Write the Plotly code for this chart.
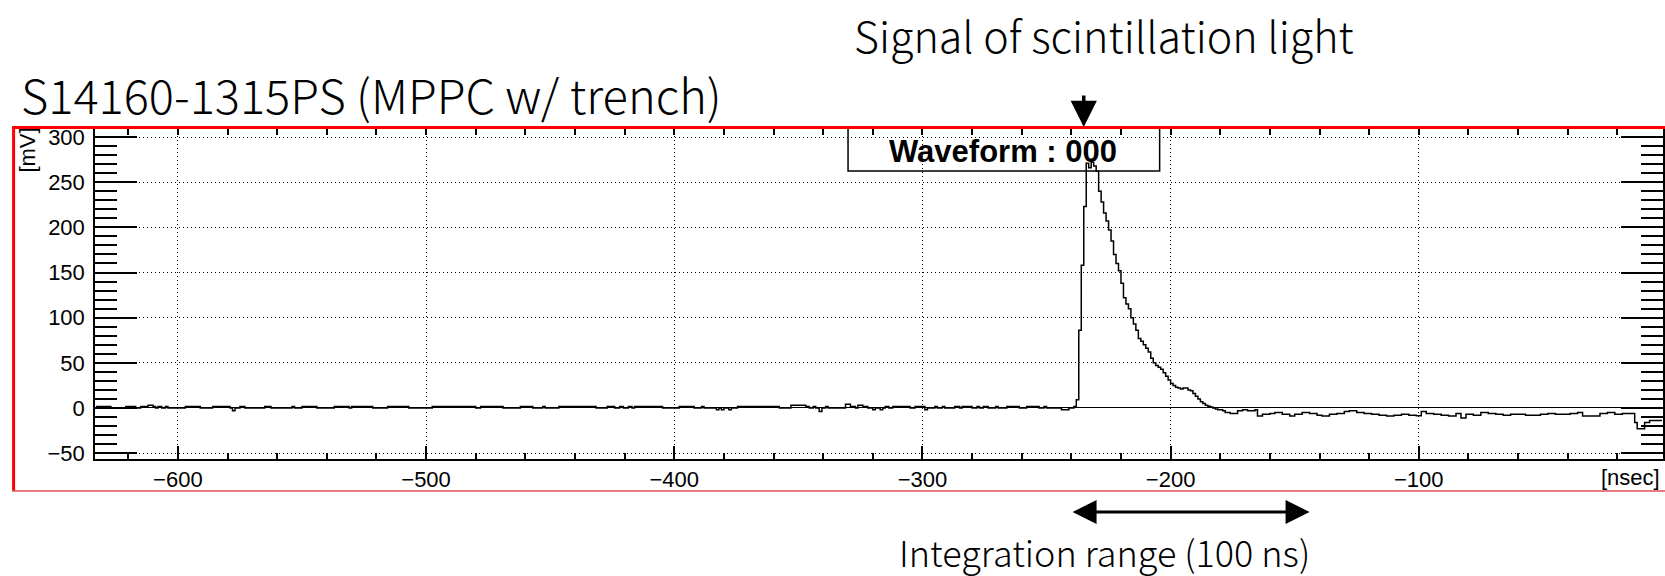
import plotly.graph_objects as go

# ---------------- data ----------------
# baseline region: step change points (time [ns], amplitude [mV])
base_t = [-633, -627, -621, -617, -615, -612, -610, -609, -608, -606.5, -605, -604,
          -597, -591, -586, -579, -578, -577, -575, -573, -565, -562.5, -554, -553,
          -550, -544, -537, -531, -530, -521.5, -515.5, -507, -497.5, -480, -478, -469,
          -462, -457, -453, -452, -446.5, -431.5, -427, -424, -422, -420.5, -418.5, -417,
          -416, -404.7, -398, -392, -389, -388, -383, -382, -381, -380, -378, -377,
          -374.5, -357.7, -353, -347, -345.6, -344, -343, -341.6, -340.5, -339, -338,
          -331, -329, -327, -326, -324, -322, -320, -319, -317, -316, -315, -313.5,
          -312, -305, -303, -299, -298, -295, -294, -292, -291, -287, -285, -284, -280,
          -278, -277, -275.5, -273.5, -270.5, -269.5, -266, -261, -258, -253, -251, -250,
          -244, -241, -239]
base_v = [1.5, 0, 1.5, 0, 1.5, 3, 1.5, 0, 1.5, 0, 1.5, 0,
          1.5, 0, 1.5, 0, -3, 0, 1.5, 0, 1.5, 0, 1.5, 0,
          1.5, 0, 1.5, 0, 1.5, 0, 1.5, 0, 1.5, 0, 1.5, 0,
          1.5, 0, 1.5, 0, 1.5, 0, 1.5, 0, 1.5, 0, 1.5, 0,
          1.5, 0, 1.5, 0, 1.5, 0, -2, 0, -2, 0, -2, 0,
          1.5, 0, 3, 1.5, 0, 1.5, 0, -4, 0, 1.5, 0,
          4, 1.5, 0, 3, 1.5, 0, -2, 0, -2, 0, 1.5, 0,
          1.5, 0, 1.5, -2, 0, 1.5, 0, 1.5, 0, 1.5, 0, 1.5, 0,
          1.5, 0, 1.5, 0, 1.5, 0, 1.5, 0, 1.5, 0, 1.5, 0,
          -2, 0, 1.5]

# scintillation pulse (1 ns samples)
pulse_t = [-238, -237, -236, -235, -234, -233, -232, -231, -230, -229, -228, -227,
           -226, -225, -224, -223, -222, -221, -220, -219, -218, -217, -216, -215,
           -214, -213, -212, -211, -210, -209, -208, -207, -206, -205, -204, -203,
           -202, -201, -200, -199, -198, -197, -196, -195, -194, -193, -192, -191,
           -190, -189, -188, -187, -186, -185, -184, -183, -182, -181, -180, -179,
           -178, -177, -176]
pulse_v = [9, 86, 158, 223, 271, 266, 272, 268, 262, 240, 228, 216,
           207, 197, 185, 170, 160, 152, 138, 122, 115, 110, 100, 93,
           86, 77, 74, 70, 66, 62, 55, 50, 47, 45, 43, 39,
           35, 31, 27, 25, 23, 22, 21, 22, 22, 20, 19, 16,
           13, 10, 7, 5, 3, 2, 1, 0, -1, -2, -2, -3,
           -5, -5, -6]

# tail after the pulse: step change points
tail_t = [-175, -173, -171, -169, -166, -165, -163, -160, -158, -155, -152, -150,
          -147, -144, -141, -139, -136, -133, -130, -128, -125, -122, -119, -116,
          -113, -110, -107, -104, -101, -99, -97, -94, -91, -88, -85, -83, -81,
          -78, -75, -72, -69, -66, -63, -60, -57, -54, -51, -48, -45, -42, -39,
          -36, -34, -30, -27, -24, -21, -18, -15, -13, -12, -9, -7, -2]
tail_v = [-6, -3, -2, -3, -2, -9, -7, -6, -5, -7, -9, -7,
          -5, -6, -8, -9, -7, -6, -4, -3, -5, -6, -7, -8,
          -9, -8, -7, -8, -8.5, -4, -6, -7, -8, -9, -6, -11, -7,
          -8, -5, -6, -7, -8, -7, -7, -8, -8, -7, -6, -7, -7, -6,
          -5, -9, -9, -6, -5, -7, -6, -6, -16, -23, -16, -14, -14]

time_ns = base_t + pulse_t + tail_t
amp_mv = base_v + pulse_v + tail_v

x_range = [-633.4, -1.6]
y_range = [-56.5, 310]
x_ticks = [-600, -500, -400, -300, -200, -100]
y_ticks = [-50, 0, 50, 100, 150, 200, 250, 300]
signal_time = -235          # arrow "Signal of scintillation light"
integ_start, integ_end = -240, -144   # integration range arrow (100 ns incl. heads)

# ---------------- layout geometry (pixels) ----------------
W, H = 1665, 576
L, R, T, B = 95, 0, 128, 117
PW, PH = W - L - R, H - T - B
X_PER_PX = (x_range[1] - x_range[0]) / PW


def px(xp):
    return (xp - L) / PW


def py(yp):
    return (H - B - yp) / PH


fig = go.Figure()
fig.add_trace(go.Scatter(x=time_ns, y=amp_mv, mode="lines", line_shape="hv",
                         line=dict(color="black", width=1.5),
                         showlegend=False, hoverinfo="skip"))
# empty trace to create the top axis subplot
fig.add_trace(go.Scatter(x=[], y=[], xaxis="x2", showlegend=False, hoverinfo="skip"))

tickfont = dict(family="Liberation Sans, Arial, sans-serif", size=22, color="black")
fig.update_layout(
    width=W, height=H,
    margin=dict(l=L, r=R, t=T, b=B, pad=0),
    plot_bgcolor="white", paper_bgcolor="white",
    showlegend=False,
    xaxis=dict(range=x_range, tickvals=x_ticks, ticks="inside", ticklen=13,
               tickwidth=1.5, tickcolor="black", showline=True, linecolor="black",
               linewidth=1.5, mirror=False, showgrid=True, gridcolor="black",
               griddash="1px,3px", gridwidth=1, zeroline=False, tickfont=tickfont,
               ticklabelstandoff=0,
               minor=dict(dtick=20, tick0=0, ticks="inside", ticklen=6,
                          tickwidth=1.5, tickcolor="black", showgrid=False)),
    xaxis2=dict(range=x_range, overlaying="x", side="top", ticks="inside",
                tickvals=list(range(-620, 0, 20)), ticklen=7, tickwidth=1.5,
                tickcolor="black", showline=True, linecolor="black", linewidth=1.5,
                showticklabels=False, showgrid=False, zeroline=False),
    yaxis=dict(range=y_range, tickvals=y_ticks, ticks="inside", ticklen=42,
               tickwidth=2, tickcolor="black", showline=True, linecolor="black",
               linewidth=1.5, mirror="ticks", showgrid=True, gridcolor="black",
               griddash="1px,3px", gridwidth=1, zeroline=True, zerolinecolor="black",
               zerolinewidth=1, tickfont=tickfont, ticklabelstandoff=4,
               minor=dict(dtick=10, tick0=0, ticks="inside", ticklen=22,
                          tickwidth=2, tickcolor="black", showgrid=False)),
)

shapes = []
# red frame
shapes.append(dict(type="line", xref="paper", yref="paper", x0=px(13.5), x1=px(13.5),
                   y0=py(127.5), y1=py(491), line=dict(color="#ff0000", width=3)))
shapes.append(dict(type="line", xref="paper", yref="paper", x0=px(12), x1=px(1700),
                   y0=py(127.5), y1=py(127.5), line=dict(color="#ff0000", width=3)))
shapes.append(dict(type="line", xref="paper", yref="paper", x0=px(12), x1=px(1700),
                   y0=py(491), y1=py(491), line=dict(color="#e0505a", width=1.5)))
# title box
shapes.append(dict(type="rect", xref="paper", yref="paper", x0=px(849), x1=px(1161),
                   y0=py(171), y1=py(128), line=dict(color="black", width=1.5),
                   fillcolor="rgba(0,0,0,0)", layer="below"))
fig.update_layout(shapes=shapes)

jp = "Noto Sans CJK JP, Noto Sans, sans-serif"
ann = []
ann.append(dict(text="<b>Waveform : 000</b>", xref="paper", yref="paper",
                x=px(1004), y=py(151), showarrow=False, xanchor="center", yanchor="middle",
                font=dict(family="Liberation Sans, Arial, sans-serif", size=31, color="black")))
ann.append(dict(text="Signal of scintillation light", xref="paper", yref="paper",
                x=px(1105), y=py(34), showarrow=False, xanchor="center", yanchor="middle",
                font=dict(family=jp, size=43, color="black", weight=300)))
ann.append(dict(text="S14160-1315PS (MPPC w/ trench)", xref="paper", yref="paper",
                x=px(19), y=py(94), showarrow=False, xanchor="left", yanchor="middle",
                font=dict(family=jp, size=47, color="black", weight=300)))
ann.append(dict(text="Integration range (100 ns)", xref="paper", yref="paper",
                x=px(1106), y=py(551), showarrow=False, xanchor="center", yanchor="middle",
                font=dict(family=jp, size=36, color="black", weight=300)))
ann.append(dict(text="[mV]", xref="paper", yref="paper", x=px(27), y=py(126),
                showarrow=False, textangle=-90, xanchor="center", yanchor="top",
                font=tickfont))
ann.append(dict(text="[nsec]", xref="paper", yref="paper", x=px(1601), y=py(477),
                showarrow=False, xanchor="left", yanchor="middle", font=tickfont))
# down arrow to the signal
ann.append(dict(text="", x=signal_time, xref="x", y=py(127), yref="paper",
                ax=0, ay=-33, axref="pixel", ayref="pixel", showarrow=True,
                arrowhead=2, arrowsize=1.5, arrowwidth=3.5, arrowcolor="black"))
# integration range double arrow
ann.append(dict(text="", x=integ_end, xref="x", y=py(512), yref="paper",
                ax=-(integ_end - integ_start) / X_PER_PX, ay=0,
                axref="pixel", ayref="pixel", showarrow=True,
                arrowhead=2, startarrowhead=2, arrowside="end+start",
                arrowsize=1.6, startarrowsize=1.6, arrowwidth=3, arrowcolor="black"))
fig.update_layout(annotations=ann)

fig.write_html("out.html", config={"displayModeBar": False},
               post_script="document.body.style.margin='0';")
